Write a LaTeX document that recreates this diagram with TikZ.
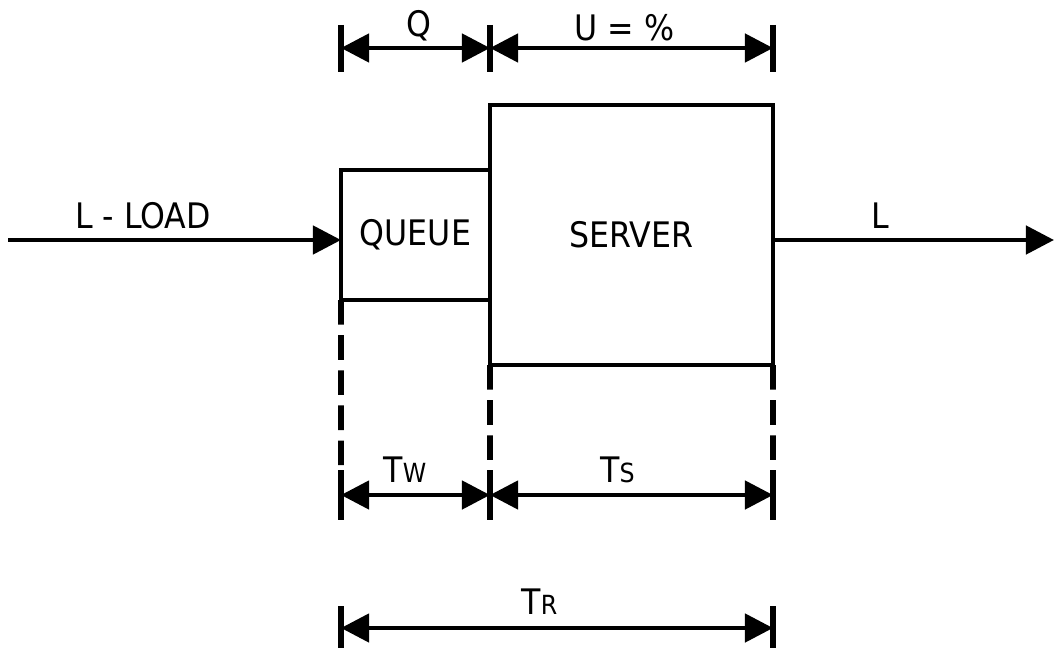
\documentclass[tikz,border=0pt]{standalone}
\usepackage{fontspec}
\setmainfont{DejaVu Sans Condensed}
\usepackage{tikz}
\usetikzlibrary{arrows.meta,positioning,calc}
\newcommand{\sm}[1]{{\fontsize{7.5}{8}\selectfont #1}}

\begin{document}
\begin{tikzpicture}[font=\fontsize{10}{12}\selectfont,
  thick line/.style={line width=1.3pt},
  flow/.style={thick line,-{Triangle[length=8pt,width=8pt]}},
  dim/.style={thick line,{Triangle[length=8pt,width=8pt]}-{Triangle[length=8pt,width=8pt]}},
  tick/.style={line width=1.7pt},
  guide/.style={line width=1.6pt,dash pattern=on 7pt off 3pt},
  box/.style={draw,thick line,inner sep=0pt,outer sep=0pt}]
\useasboundingbox (0,0) rectangle (10.54,6.49);
% queue and server boxes
\node[box,minimum width=1.49cm,minimum height=1.30cm] (queue) at (4.155,4.14) {QUEUE};
\node[box,minimum width=2.83cm,minimum height=2.60cm] (server) at (6.315,4.14) {SERVER};
% load in and out
\coordinate (in) at (0.08,4.09);
\coordinate (out) at (10.54,4.09);
\draw[flow] (in) -- (in -| queue.west);
\draw[flow] (out -| server.east) -- (out);
\node (load) at (1.43,4.33) {L - LOAD};
\node (loadout) at (8.80,4.33) {L};
% dashed guides down to the time line
\coordinate (ga) at (3.41,1.39);
\coordinate (gb) at (4.90,1.39);
\coordinate (gc) at (7.73,1.39);
\draw[guide] (queue.south west) -- (ga);
\draw[guide] (server.south west) -- (gb);
\draw[guide] (server.south east) -- (gc);
% top dimensions
\coordinate (qa) at (3.41,6.01);
\coordinate (qb) at (4.90,6.01);
\coordinate (qc) at (7.73,6.01);
\foreach \p in {qa,qb,qc}
  \draw[tick] ($(\p)+(0,0.23)$) -- ($(\p)-(0,0.24)$);
\draw[dim] (qa) -- node[above=-2pt,xshift=1pt] (qlab) {Q} (qb);
\draw[dim] (qb) -- node[above=-2pt,xshift=-2pt] (ulab) {U = \%} (qc);
% wait and service times
\coordinate (ta) at (3.41,1.54);
\coordinate (tb) at (4.90,1.54);
\coordinate (tc) at (7.73,1.54);
\foreach \p in {ta,tb,tc}
  \draw[tick] ($(\p)+(0,0.25)$) -- ($(\p)-(0,0.25)$);
\draw[dim] (ta) -- node[above=-0.5pt,xshift=-3pt] (tw) {T\sm{W}} (tb);
\draw[dim] (tb) -- node[above=-0.5pt,xshift=-4pt] (ts) {T\sm{S}} (tc);
% response time
\coordinate (ra) at (3.41,0.21);
\coordinate (rc) at (7.73,0.21);
\foreach \p in {ra,rc}
  \draw[tick] ($(\p)+(0,0.22)$) -- ($(\p)-(0,0.2)$);
\draw[dim] (ra) -- node[above=0pt,xshift=-5pt] (tr) {T\sm{R}} (rc);
\end{tikzpicture}
\end{document}
